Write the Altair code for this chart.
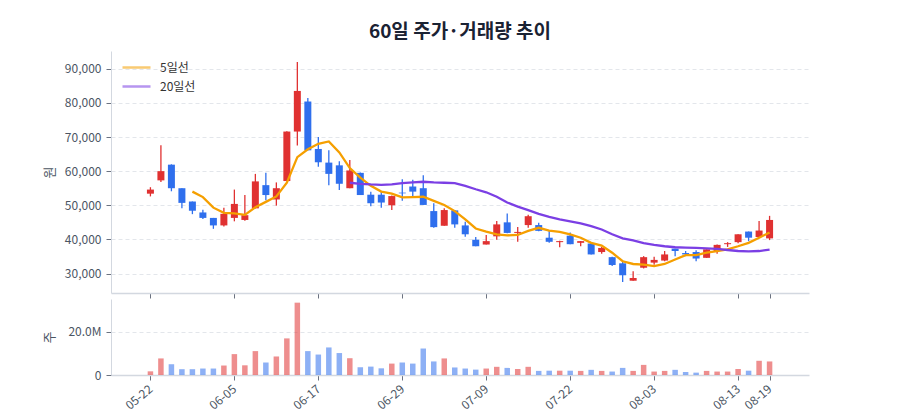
import altair as alt
import pandas as pd

dates = [
    "05-22", "05-23", "05-24", "05-27", "05-28", "05-29", "05-30", "05-31",
    "06-05", "06-06", "06-09", "06-10", "06-11", "06-12", "06-13", "06-16",
    "06-17", "06-18", "06-19", "06-20", "06-23", "06-24", "06-25", "06-26",
    "06-29", "06-30", "07-01", "07-02", "07-03", "07-04", "07-07", "07-08",
    "07-09", "07-10", "07-11", "07-14", "07-15", "07-16", "07-17", "07-18",
    "07-22", "07-23", "07-24", "07-25", "07-28", "07-29", "07-30", "07-31",
    "08-03", "08-04", "08-05", "08-06", "08-07", "08-08", "08-11", "08-12",
    "08-13", "08-14", "08-18", "08-19",
]
tick_dates = ["05-22", "06-05", "06-17", "06-29", "07-09", "07-22", "08-03", "08-13", "08-19"]

open_ = [53400, 57300, 61900, 55000, 51100, 47900, 46300, 44100, 46300, 45700,
         49100, 55900, 51700, 57100, 71600, 80400, 66500, 62500, 61700, 55000,
         59500, 53100, 53100, 50000, 53700, 55500, 55000, 48300, 44000, 48500,
         44100, 39900, 38500, 40900, 45000, 41900, 44200, 44200, 40500, 39200,
         41100, 39000, 38800, 36300, 34800, 33000, 27900, 31700, 33200, 33800,
         37300, 36000, 36300, 34600, 36600, 38600, 39200, 42300, 40700, 40300]
high = [55300, 67600, 62000, 55000, 51100, 48700, 46300, 49300, 54600, 53000,
        59200, 59500, 56700, 71700, 92000, 81400, 70000, 66100, 62900, 63300,
        59600, 54000, 54000, 52900, 57600, 57500, 58800, 50600, 49100, 48600,
        45200, 40700, 41300, 45400, 47600, 43600, 47200, 44900, 42700, 39600,
        42000, 39500, 39200, 37800, 34900, 33800, 30700, 35100, 34900, 36600,
        37300, 36600, 36800, 37100, 38500, 39200, 41500, 42300, 45400, 46900]
low = [52600, 56800, 54100, 49100, 47400, 46000, 43100, 43800, 45300, 45500,
       49100, 51500, 49900, 57100, 67500, 66100, 61300, 55900, 54500, 55000,
       53000, 49700, 49300, 48600, 51300, 52500, 50100, 43400, 44000, 43400,
       40800, 38000, 38500, 39900, 41800, 39300, 43400, 42400, 39000, 37700,
       38600, 38000, 35600, 35800, 32200, 27500, 27900, 31500, 32600, 33600,
       35100, 35100, 33600, 34600, 35800, 37800, 38900, 39500, 40700, 39800]
close = [54600, 60000, 55000, 50700, 48400, 46300, 44100, 47500, 50400, 47100,
         57000, 53000, 55000, 71600, 83500, 66100, 62600, 59200, 56300, 60200,
         53000, 50600, 50800, 52700, 53500, 54000, 50100, 43600, 48600, 44400,
         41500, 38000, 39500, 44400, 41900, 42200, 46800, 42500, 39300, 39500,
         38600, 39500, 35600, 37500, 32500, 29500, 28700, 34800, 34000, 35600,
         36600, 35600, 34400, 37100, 38400, 38900, 41500, 40500, 42600, 45700]
volume = [1.7, 7.7, 5.0, 2.7, 2.7, 3.0, 3.0, 4.4, 9.7, 4.5,
          11.1, 5.8, 8.6, 17.0, 33.6, 11.1, 9.5, 12.8, 10.2, 7.8,
          3.6, 3.9, 3.1, 5.3, 5.8, 5.3, 12.3, 6.3, 7.7, 3.5,
          3.0, 2.5, 3.0, 3.8, 3.3, 2.8, 3.8, 1.9, 2.0, 2.0,
          2.0, 1.9, 2.4, 1.9, 1.6, 3.3, 1.9, 4.7, 1.6, 1.9,
          2.4, 1.4, 1.1, 1.9, 1.6, 1.6, 2.8, 2.0, 6.6, 6.3]  # 백만 주

ma5 = [None, None, None, None, 54000, 52400, 49300, 47800, 47600, 47200,
       49400, 51000, 52600, 56600, 64100, 66400, 68000, 68700, 65500, 60900,
       58100, 55700, 54000, 53400, 52300, 52400, 52500, 51300, 50100, 48300,
       45900, 43200, 42300, 41500, 41200, 41300, 42500, 43400, 42600, 42200,
       41500, 40500, 39000, 38200, 36100, 33600, 32800, 32600, 32200, 32800,
       34100, 35400, 35400, 36100, 36600, 37100, 38000, 39000, 40500, 42000]
ma20 = [None] * 19 + [
    56600, 56300, 56100, 56000, 56100, 56500, 56700, 56900, 56700, 56600,
    56500, 55700, 54700, 53800, 52500, 50800, 49600, 48600, 47500, 46600,
    45900, 45300, 44700, 43900, 42900, 41500, 40300, 39700, 38900, 38400,
    38000, 37700, 37600, 37500, 37400, 37200, 36900, 36600, 36500, 36600, 37000]

UP = "#e03131"
DOWN = "#2f6fed"
FONT = "Noto Sans CJK KR"

idx = list(range(len(dates)))
df = pd.DataFrame({"i": idx, "date": dates, "open": open_, "high": high, "low": low,
                   "close": close, "volume": [v * 1e6 for v in volume]})
df["color"] = [UP if c >= o else DOWN for o, c in zip(open_, close)]

ma = pd.concat([
    pd.DataFrame({"i": idx, "value": ma5, "series": "5일선"}),
    pd.DataFrame({"i": idx, "value": ma20, "series": "20일선"}),
]).dropna()

# 범주형 x축 대신 순번으로 그리고 라벨만 날짜로 바꿈
tick_idx = [dates.index(d) for d in tick_dates]
label_expr = "[" + ",".join(f"'{d}'" for d in dates) + "][datum.value]"
x_scale = alt.Scale(domain=[-3.28, 62.28], nice=False, zero=False)

y_common = dict(grid=True, gridDash=[4, 3], gridColor="#e3e6eb", domainColor="#d3d8e0",
                tickColor="#6b7280", tickSize=5, labelPadding=5, labelColor="#4b5563",
                labelFontSize=12, titleFontSize=13, titleFontWeight="normal",
                titleColor="#4b5563", titlePadding=5, minExtent=50, maxExtent=50)
x_common = dict(values=tick_idx, grid=False, domainColor="#d3d8e0", domainWidth=1.5,
                tickColor="#6b7280", tickSize=5, title=None, labelOverlap=False)

price_axis = alt.Axis(title="원", values=[30000, 40000, 50000, 60000, 70000, 80000, 90000],
                      labelExpr="format(datum.value, ',')", **y_common)
y_price = alt.Scale(domain=[24300, 95200], nice=False, zero=False)

base = alt.Chart(df).encode(
    x=alt.X("i:Q", scale=x_scale, axis=alt.Axis(labels=False, **x_common))
)

wicks = base.mark_rule(strokeWidth=1.3).encode(
    y=alt.Y("low:Q", scale=y_price, axis=price_axis),
    y2="high:Q",
    color=alt.Color("color:N", scale=None),
)
bodies = base.mark_bar(size=7).encode(
    y=alt.Y("open:Q", scale=y_price, axis=price_axis),
    y2="close:Q",
    color=alt.Color("color:N", scale=None),
)
lines = alt.Chart(ma).mark_line(strokeWidth=2.3).encode(
    x=alt.X("i:Q", scale=x_scale, axis=alt.Axis(labels=False, **x_common)),
    y=alt.Y("value:Q", scale=y_price, axis=price_axis),
    color=alt.Color("series:N",
                    scale=alt.Scale(domain=["5일선", "20일선"], range=["#f59f00", "#7b3fe4"]),
                    legend=alt.Legend(title=None, orient="none", legendX=10, legendY=9,
                                      symbolType="stroke", symbolStrokeWidth=2.5,
                                      symbolSize=784, clipHeight=15, rowPadding=4,
                                      labelOffset=8, labelFontSize=12, labelColor="#333333",
                                      labelFont=FONT)),
)
price = alt.layer(wicks, bodies, lines).properties(width=698, height=242)

vol = alt.Chart(df).mark_bar(opacity=0.55, size=5.5).encode(
    x=alt.X("i:Q", scale=x_scale,
            axis=alt.Axis(labelAngle=-40, labelAlign="right", labelBaseline="middle",
                          labelColor="#4b5563", labelFontSize=12, labelPadding=7,
                          labelExpr=label_expr, **x_common)),
    y=alt.Y("volume:Q", scale=alt.Scale(domain=[0, 35300000], nice=False),
            axis=alt.Axis(title="주", values=[0, 20000000],
                          labelExpr="datum.value == 0 ? '0' : format(datum.value / 1e6, '.1f') + 'M'",
                          **y_common)),
    color=alt.Color("color:N", scale=None),
).properties(width=698, height=76)

chart = alt.vconcat(price, vol, spacing=0).properties(
    title=alt.Title("60일 주가·거래량 추이", fontSize=19, fontWeight="bold",
                    color="#1a2233", anchor="middle", offset=9, dx=34),
    padding={"left": 35, "top": 15, "right": 10, "bottom": 5},
).configure(font=FONT).configure_view(stroke=None)

chart.save("out.html", embed_options={"renderer": "svg", "actions": False})
